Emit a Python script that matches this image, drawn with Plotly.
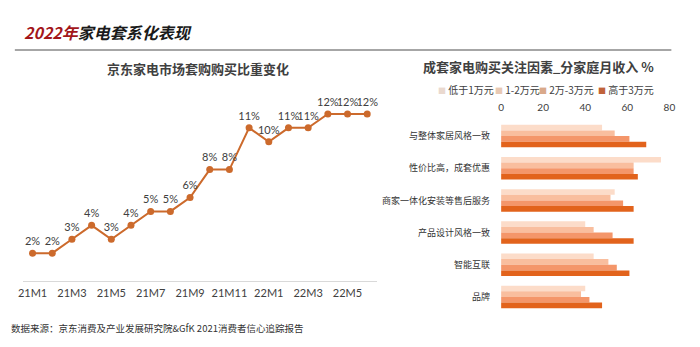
import plotly.graph_objects as go

# 京东家电市场套购购买比重（%）
months = ["21M1", "21M2", "21M3", "21M4", "21M5", "21M6", "21M7", "21M8", "21M9",
          "21M10", "21M11", "21M12", "22M1", "22M2", "22M3", "22M4", "22M5", "22M6"]
share = [2, 2, 3, 4, 3, 4, 5, 5, 6, 8, 8, 11, 10, 11, 11, 12, 12, 12]
month_ticks = ["21M1", "21M3", "21M5", "21M7", "21M9", "21M11", "22M1", "22M3", "22M5"]

# 成套家电购买关注因素（按家庭月收入，%）
factors = ["与整体家居风格一致", "性价比高，成套优惠", "商家一体化安装等售后服务",
           "产品设计风格一致", "智能互联", "品牌"]
income_groups = ["低于1万元", "1-2万元", "2万-3万元", "高于3万元"]
income_values = [
    [48, 76, 54, 40, 44, 40],
    [54, 63, 52, 44, 51, 38],
    [61, 63, 58, 53, 55, 42],
    [69, 65, 63, 63, 61, 48],
]
income_ticks = [0, 20, 40, 60, 80]

W, H = 700, 347
FONT = "Lato, 'Noto Sans CJK SC', sans-serif"
CJK = "'Noto Sans CJK SC', sans-serif"
bar_colors = ["#FCDCC9", "#F9BE9E", "#F4966A", "#E2631C"]
swatch_colors = ["#EAD9CF", "#E8C9B4", "#D9A98A", "#C0623A"]
line_color = "#CC6A2C"


def px_x(v):
    return v / W


def px_y(v):
    return 1 - v / H


fig = go.Figure()

fig.add_trace(go.Scatter(
    x=months, y=share, mode="lines+markers+text",
    text=[f"{v}%" for v in share], textposition="top center",
    textfont=dict(size=11, color="#404040", family=FONT),
    line=dict(color=line_color, width=2),
    marker=dict(color=line_color, size=7),
    cliponaxis=False, showlegend=False,
    xaxis="x", yaxis="y",
))

for name, vals, col in zip(income_groups, income_values, bar_colors):
    fig.add_trace(go.Bar(
        y=factors, x=vals, name=name, orientation="h",
        marker=dict(color=col, line=dict(width=0)),
        showlegend=False,
        xaxis="x2", yaxis="y2",
    ))

# legend row for the income groups
legend_x = [438, 496, 541, 600]
legend_notes = [
    dict(text=f"<span style='color:{c};font-size:8px'>■</span> {n}",
         x=px_x(lx), y=px_y(89), xref="paper", yref="paper",
         xanchor="left", yanchor="middle", showarrow=False,
         font=dict(size=10, color="#404040", family=CJK))
    for n, c, lx in zip(income_groups, swatch_colors, legend_x)
]

fig.update_layout(
    width=W, height=H,
    margin=dict(l=0, r=0, t=0, b=0),
    paper_bgcolor="white", plot_bgcolor="white",
    font=dict(family=FONT, color="#404040"),
    barmode="group", bargap=0.3, bargroupgap=0,
    showlegend=False,
    xaxis=dict(
        domain=[px_x(18), px_x(378)], anchor="y",
        type="category", range=[-0.5, 17.5],
        tickvals=month_ticks, ticktext=month_ticks, tickangle=0,
        tickfont=dict(size=11, color="#404040"),
        showline=True, linecolor="#D9D9D9", linewidth=1,
        showgrid=False, ticks="", ticklabelstandoff=2,
    ),
    yaxis=dict(
        domain=[px_y(281), px_y(100)], anchor="x",
        range=[0, 13], visible=False, showgrid=False,
    ),
    xaxis2=dict(
        domain=[px_x(504), px_x(675)], anchor="y2", side="top",
        range=[0, 80], tickvals=income_ticks,
        tickfont=dict(size=10, color="#404040"),
        showgrid=False, zeroline=False, ticks="",
        ticklabelstandoff=6,
    ),
    yaxis2=dict(
        domain=[px_y(313), px_y(120)], anchor="x2",
        autorange="reversed", showgrid=False, ticks="",
        tickfont=dict(size=9, color="#333333", family=CJK),
        ticklabelstandoff=10,
    ),
    shapes=[dict(
        type="line", xref="paper", yref="paper",
        x0=px_x(10), x1=px_x(677), y0=px_y(50), y1=px_y(50),
        line=dict(color="#A6A6A6", width=2),
    )],
    annotations=[
        dict(text="<b><i><span style='color:#A3161A'>2022年</span>家电套系化表现</i></b>",
             x=px_x(17), y=px_y(32), xref="paper", yref="paper",
             xanchor="left", yanchor="middle", showarrow=False,
             font=dict(size=16, color="#1A1A1A", family=CJK)),
        dict(text="<b>京东家电市场套购购买比重变化</b>",
             x=px_x(196), y=px_y(68), xref="paper", yref="paper",
             xanchor="center", yanchor="middle", showarrow=False,
             font=dict(size=13, color="#404040", family=CJK)),
        dict(text="<b>成套家电购买关注因素_分家庭月收入 %</b>",
             x=px_x(542), y=px_y(66), xref="paper", yref="paper",
             xanchor="center", yanchor="middle", showarrow=False,
             font=dict(size=13, color="#404040", family=CJK)),
        dict(text="数据来源：京东消费及产业发展研究院&GfK 2021消费者信心追踪报告",
             x=px_x(4), y=px_y(328), xref="paper", yref="paper",
             xanchor="left", yanchor="middle", showarrow=False,
             font=dict(size=9.5, color="#333333", family=CJK)),
    ] + legend_notes,
)

fig.write_html("out.html")
